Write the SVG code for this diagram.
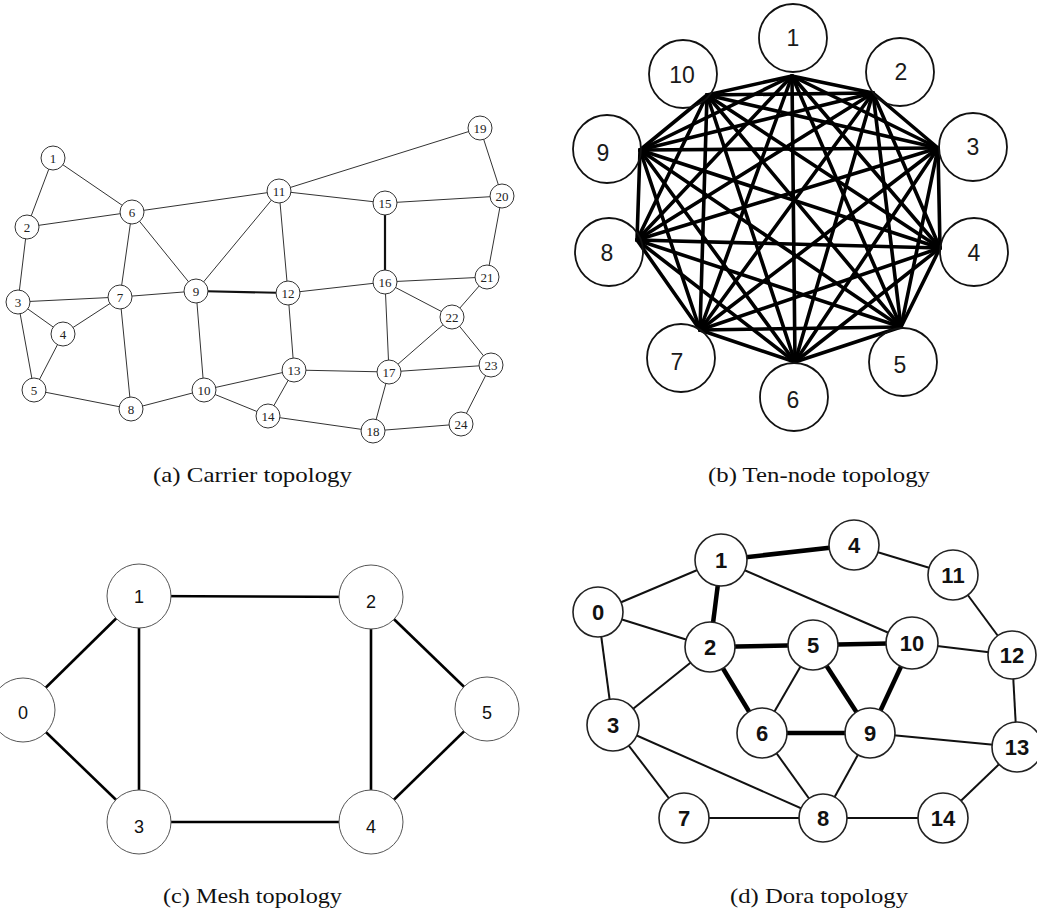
<svg xmlns="http://www.w3.org/2000/svg" width="1037" height="913" viewBox="0 0 1037 913">
<style>
.bg{fill:#fff}
.ca{stroke:#333;stroke-width:1;fill:none}
.cat{stroke:#111;stroke-width:2.2;fill:none}
.na circle{fill:#fff;stroke:#333;stroke-width:1}
.na text{font-family:"Liberation Serif",serif;font-size:13px;fill:#222;text-anchor:middle}
.tb{stroke:#000;stroke-width:3.6;stroke-linecap:round;fill:none}
.nb circle{fill:none;stroke:#111;stroke-width:1.8}
.nb text{font-family:"Liberation Sans",Arial,sans-serif;font-size:23px;fill:#1a1a1a;text-anchor:middle}
.mc{stroke:#000;stroke-width:2.6;fill:none}
.nc circle{fill:#fff;stroke:#555;stroke-width:1}
.nc text{font-family:"Liberation Sans",Arial,sans-serif;font-size:18px;fill:#111;text-anchor:middle}
.dt{stroke:#111;stroke-width:2;fill:none}
.dk{stroke:#000;stroke-width:4.5;fill:none}
.nd circle{fill:#fff;stroke:#222;stroke-width:1.6}
.nd text{font-family:"Liberation Sans",Arial,sans-serif;font-size:22px;font-weight:bold;fill:#111;text-anchor:middle}
.cap{font-family:"Liberation Serif",serif;font-size:21px;fill:#111}
</style>
<rect class="bg" x="0" y="0" width="1037" height="913"/>

<!-- (a) Carrier topology -->
<g id="carrier-edges">
<line class="ca" x1="53" y1="158" x2="27" y2="227"/>
<line class="ca" x1="53" y1="158" x2="132" y2="212"/>
<line class="ca" x1="27" y1="227" x2="132" y2="212"/>
<line class="ca" x1="27" y1="227" x2="18" y2="302"/>
<line class="ca" x1="18" y1="302" x2="120" y2="297"/>
<line class="ca" x1="18" y1="302" x2="63" y2="334"/>
<line class="ca" x1="18" y1="302" x2="34" y2="390"/>
<line class="ca" x1="63" y1="334" x2="120" y2="297"/>
<line class="ca" x1="63" y1="334" x2="34" y2="390"/>
<line class="ca" x1="34" y1="390" x2="131" y2="409"/>
<line class="ca" x1="132" y1="212" x2="120" y2="297"/>
<line class="ca" x1="132" y1="212" x2="196" y2="291"/>
<line class="ca" x1="132" y1="212" x2="279" y2="191"/>
<line class="ca" x1="120" y1="297" x2="196" y2="291"/>
<line class="ca" x1="120" y1="297" x2="131" y2="409"/>
<line class="ca" x1="131" y1="409" x2="204" y2="390"/>
<line class="ca" x1="196" y1="291" x2="204" y2="390"/>
<line class="ca" x1="196" y1="291" x2="279" y2="191"/>
<line class="cat" x1="196" y1="291" x2="288" y2="293"/>
<line class="ca" x1="204" y1="390" x2="294" y2="370"/>
<line class="ca" x1="204" y1="390" x2="268" y2="416"/>
<line class="ca" x1="279" y1="191" x2="288" y2="293"/>
<line class="ca" x1="279" y1="191" x2="385" y2="203"/>
<line class="ca" x1="279" y1="191" x2="480" y2="128"/>
<line class="ca" x1="288" y1="293" x2="385" y2="282"/>
<line class="ca" x1="288" y1="293" x2="294" y2="370"/>
<line class="ca" x1="294" y1="370" x2="389" y2="372"/>
<line class="ca" x1="294" y1="370" x2="268" y2="416"/>
<line class="ca" x1="268" y1="416" x2="373" y2="431"/>
<line class="cat" x1="385" y1="203" x2="385" y2="282"/>
<line class="ca" x1="385" y1="203" x2="502" y2="196"/>
<line class="ca" x1="385" y1="282" x2="487" y2="277"/>
<line class="ca" x1="385" y1="282" x2="452" y2="317"/>
<line class="ca" x1="385" y1="282" x2="389" y2="372"/>
<line class="ca" x1="389" y1="372" x2="452" y2="317"/>
<line class="ca" x1="389" y1="372" x2="491" y2="365"/>
<line class="ca" x1="389" y1="372" x2="373" y2="431"/>
<line class="ca" x1="373" y1="431" x2="461" y2="424"/>
<line class="ca" x1="480" y1="128" x2="502" y2="196"/>
<line class="ca" x1="502" y1="196" x2="487" y2="277"/>
<line class="ca" x1="487" y1="277" x2="452" y2="317"/>
<line class="ca" x1="452" y1="317" x2="491" y2="365"/>
<line class="ca" x1="491" y1="365" x2="461" y2="424"/>
</g>
<g class="na">
<g id="a1"><circle cx="53" cy="158" r="12"/><text x="53" y="162.5">1</text></g>
<g id="a2"><circle cx="27" cy="227" r="12"/><text x="27" y="231.5">2</text></g>
<g id="a3"><circle cx="18" cy="302" r="12"/><text x="18" y="306.5">3</text></g>
<g id="a4"><circle cx="63" cy="334" r="12"/><text x="63" y="338.5">4</text></g>
<g id="a5"><circle cx="34" cy="390" r="12"/><text x="34" y="394.5">5</text></g>
<g id="a6"><circle cx="132" cy="212" r="12"/><text x="132" y="216.5">6</text></g>
<g id="a7"><circle cx="120" cy="297" r="12"/><text x="120" y="301.5">7</text></g>
<g id="a8"><circle cx="131" cy="409" r="12"/><text x="131" y="413.5">8</text></g>
<g id="a9"><circle cx="196" cy="291" r="12"/><text x="196" y="295.5">9</text></g>
<g id="a10"><circle cx="204" cy="390" r="12"/><text x="204" y="394.5">10</text></g>
<g id="a11"><circle cx="279" cy="191" r="12"/><text x="279" y="195.5">11</text></g>
<g id="a12"><circle cx="288" cy="293" r="12"/><text x="288" y="297.5">12</text></g>
<g id="a13"><circle cx="294" cy="370" r="12"/><text x="294" y="374.5">13</text></g>
<g id="a14"><circle cx="268" cy="416" r="12"/><text x="268" y="420.5">14</text></g>
<g id="a15"><circle cx="385" cy="203" r="12"/><text x="385" y="207.5">15</text></g>
<g id="a16"><circle cx="385" cy="282" r="12"/><text x="385" y="286.5">16</text></g>
<g id="a17"><circle cx="389" cy="372" r="12"/><text x="389" y="376.5">17</text></g>
<g id="a18"><circle cx="373" cy="431" r="12"/><text x="373" y="435.5">18</text></g>
<g id="a19"><circle cx="480" cy="128" r="12"/><text x="480" y="132.5">19</text></g>
<g id="a20"><circle cx="502" cy="196" r="12"/><text x="502" y="200.5">20</text></g>
<g id="a21"><circle cx="487" cy="277" r="12"/><text x="487" y="281.5">21</text></g>
<g id="a22"><circle cx="452" cy="317" r="12"/><text x="452" y="321.5">22</text></g>
<g id="a23"><circle cx="491" cy="365" r="12"/><text x="491" y="369.5">23</text></g>
<g id="a24"><circle cx="461" cy="424" r="12"/><text x="461" y="428.5">24</text></g>
</g>
<text class="cap" x="153" y="482" textLength="199" lengthAdjust="spacingAndGlyphs">(a)  Carrier topology</text>

<!-- (b) Ten-node topology -->
<g id="ten-edges">
<line class="tb" x1="792" y1="76" x2="873" y2="93"/>
<line class="tb" x1="792" y1="76" x2="938" y2="148"/>
<line class="tb" x1="792" y1="76" x2="940" y2="248"/>
<line class="tb" x1="792" y1="76" x2="901" y2="327"/>
<line class="tb" x1="792" y1="76" x2="795" y2="362"/>
<line class="tb" x1="792" y1="76" x2="700" y2="330"/>
<line class="tb" x1="792" y1="76" x2="637" y2="240"/>
<line class="tb" x1="792" y1="76" x2="640" y2="150"/>
<line class="tb" x1="792" y1="76" x2="707" y2="95"/>
<line class="tb" x1="873" y1="93" x2="938" y2="148"/>
<line class="tb" x1="873" y1="93" x2="940" y2="248"/>
<line class="tb" x1="873" y1="93" x2="901" y2="327"/>
<line class="tb" x1="873" y1="93" x2="795" y2="362"/>
<line class="tb" x1="873" y1="93" x2="700" y2="330"/>
<line class="tb" x1="873" y1="93" x2="637" y2="240"/>
<line class="tb" x1="873" y1="93" x2="640" y2="150"/>
<line class="tb" x1="873" y1="93" x2="707" y2="95"/>
<line class="tb" x1="938" y1="148" x2="940" y2="248"/>
<line class="tb" x1="938" y1="148" x2="901" y2="327"/>
<line class="tb" x1="938" y1="148" x2="795" y2="362"/>
<line class="tb" x1="938" y1="148" x2="700" y2="330"/>
<line class="tb" x1="938" y1="148" x2="637" y2="240"/>
<line class="tb" x1="938" y1="148" x2="640" y2="150"/>
<line class="tb" x1="938" y1="148" x2="707" y2="95"/>
<line class="tb" x1="940" y1="248" x2="901" y2="327"/>
<line class="tb" x1="940" y1="248" x2="795" y2="362"/>
<line class="tb" x1="940" y1="248" x2="700" y2="330"/>
<line class="tb" x1="940" y1="248" x2="637" y2="240"/>
<line class="tb" x1="940" y1="248" x2="640" y2="150"/>
<line class="tb" x1="940" y1="248" x2="707" y2="95"/>
<line class="tb" x1="901" y1="327" x2="795" y2="362"/>
<line class="tb" x1="901" y1="327" x2="700" y2="330"/>
<line class="tb" x1="901" y1="327" x2="637" y2="240"/>
<line class="tb" x1="901" y1="327" x2="640" y2="150"/>
<line class="tb" x1="901" y1="327" x2="707" y2="95"/>
<line class="tb" x1="795" y1="362" x2="700" y2="330"/>
<line class="tb" x1="795" y1="362" x2="637" y2="240"/>
<line class="tb" x1="795" y1="362" x2="640" y2="150"/>
<line class="tb" x1="795" y1="362" x2="707" y2="95"/>
<line class="tb" x1="700" y1="330" x2="637" y2="240"/>
<line class="tb" x1="700" y1="330" x2="640" y2="150"/>
<line class="tb" x1="700" y1="330" x2="707" y2="95"/>
<line class="tb" x1="637" y1="240" x2="640" y2="150"/>
<line class="tb" x1="637" y1="240" x2="707" y2="95"/>
<line class="tb" x1="640" y1="150" x2="707" y2="95"/>
</g>
<g class="nb">
<g id="b1"><circle cx="793" cy="38" r="34"/><text x="793" y="46">1</text></g>
<g id="b2"><circle cx="900" cy="72" r="34"/><text x="901" y="80">2</text></g>
<g id="b3"><circle cx="973" cy="147" r="34"/><text x="973" y="155">3</text></g>
<g id="b4"><circle cx="974" cy="252" r="34"/><text x="974" y="261">4</text></g>
<g id="b5"><circle cx="903" cy="362" r="34"/><text x="900" y="373">5</text></g>
<g id="b6"><circle cx="794" cy="397" r="34"/><text x="793" y="408">6</text></g>
<g id="b7"><circle cx="681" cy="358" r="34"/><text x="677" y="370">7</text></g>
<g id="b8"><circle cx="609" cy="252" r="34"/><text x="607" y="261">8</text></g>
<g id="b9"><circle cx="607" cy="149" r="34"/><text x="603" y="161">9</text></g>
<g id="b10"><circle cx="683" cy="74" r="34"/><text x="682" y="83">10</text></g>
</g>
<text class="cap" x="708" y="482" textLength="222" lengthAdjust="spacingAndGlyphs">(b)  Ten-node topology</text>

<!-- (c) Mesh topology -->
<g id="mesh-edges">
<line class="mc" x1="23" y1="710" x2="139" y2="596"/>
<line class="mc" x1="23" y1="710" x2="139" y2="822"/>
<line class="mc" x1="139" y1="596" x2="371" y2="597"/>
<line class="mc" x1="139" y1="596" x2="139" y2="822"/>
<line class="mc" x1="371" y1="597" x2="371" y2="822"/>
<line class="mc" x1="371" y1="597" x2="487" y2="709"/>
<line class="mc" x1="139" y1="822" x2="371" y2="822"/>
<line class="mc" x1="371" y1="822" x2="487" y2="709"/>
</g>
<g class="nc">
<g id="c0"><circle cx="23" cy="710" r="32"/><text x="23" y="719">0</text></g>
<g id="c1"><circle cx="139" cy="596" r="32"/><text x="139" y="603">1</text></g>
<g id="c2"><circle cx="371" cy="597" r="32"/><text x="371" y="608">2</text></g>
<g id="c3"><circle cx="139" cy="822" r="32"/><text x="139" y="833">3</text></g>
<g id="c4"><circle cx="371" cy="822" r="32"/><text x="371" y="833">4</text></g>
<g id="c5"><circle cx="487" cy="709" r="32"/><text x="487" y="719">5</text></g>
</g>
<text class="cap" x="163" y="903" textLength="179" lengthAdjust="spacingAndGlyphs">(c)  Mesh topology</text>

<!-- (d) Dora topology -->
<g id="dora-edges">
<line class="dt" x1="598" y1="612" x2="721" y2="560"/>
<line class="dt" x1="598" y1="612" x2="710" y2="647"/>
<line class="dt" x1="598" y1="612" x2="613" y2="725"/>
<line class="dk" x1="721" y1="560" x2="710" y2="647"/>
<line class="dk" x1="721" y1="560" x2="854" y2="545"/>
<line class="dt" x1="721" y1="560" x2="912" y2="643"/>
<line class="dt" x1="854" y1="545" x2="953" y2="575"/>
<line class="dt" x1="953" y1="575" x2="1012" y2="655"/>
<line class="dk" x1="710" y1="647" x2="813" y2="645"/>
<line class="dk" x1="813" y1="645" x2="912" y2="643"/>
<line class="dt" x1="912" y1="643" x2="1012" y2="655"/>
<line class="dk" x1="710" y1="647" x2="762" y2="733"/>
<line class="dt" x1="813" y1="645" x2="762" y2="733"/>
<line class="dk" x1="813" y1="645" x2="870" y2="733"/>
<line class="dk" x1="912" y1="643" x2="870" y2="733"/>
<line class="dt" x1="710" y1="647" x2="613" y2="725"/>
<line class="dk" x1="762" y1="733" x2="870" y2="733"/>
<line class="dt" x1="762" y1="733" x2="823" y2="818"/>
<line class="dt" x1="870" y1="733" x2="823" y2="818"/>
<line class="dt" x1="870" y1="733" x2="1017" y2="747"/>
<line class="dt" x1="1012" y1="655" x2="1017" y2="747"/>
<line class="dt" x1="613" y1="725" x2="684" y2="818"/>
<line class="dt" x1="613" y1="725" x2="823" y2="818"/>
<line class="dt" x1="684" y1="818" x2="823" y2="818"/>
<line class="dt" x1="823" y1="818" x2="943" y2="818"/>
<line class="dt" x1="943" y1="818" x2="1017" y2="747"/>
</g>
<g class="nd">
<g id="d0"><circle cx="598" cy="612" r="25"/><text x="598" y="620">0</text></g>
<g id="d1"><circle cx="721" cy="560" r="26"/><text x="721" y="568">1</text></g>
<g id="d2"><circle cx="710" cy="647" r="25"/><text x="710" y="655">2</text></g>
<g id="d3"><circle cx="613" cy="725" r="26"/><text x="613" y="733">3</text></g>
<g id="d4"><circle cx="854" cy="545" r="25"/><text x="854" y="553">4</text></g>
<g id="d5"><circle cx="813" cy="645" r="25"/><text x="813" y="653">5</text></g>
<g id="d6"><circle cx="762" cy="733" r="25"/><text x="762" y="741">6</text></g>
<g id="d7"><circle cx="684" cy="818" r="25"/><text x="684" y="826">7</text></g>
<g id="d8"><circle cx="823" cy="818" r="24"/><text x="823" y="826">8</text></g>
<g id="d9"><circle cx="870" cy="733" r="25"/><text x="870" y="741">9</text></g>
<g id="d10"><circle cx="912" cy="643" r="26"/><text x="912" y="651">10</text></g>
<g id="d11"><circle cx="953" cy="575" r="25"/><text x="953" y="583">11</text></g>
<g id="d12"><circle cx="1012" cy="655" r="24"/><text x="1012" y="663">12</text></g>
<g id="d13"><circle cx="1017" cy="747" r="25"/><text x="1017" y="755">13</text></g>
<g id="d14"><circle cx="943" cy="818" r="25"/><text x="943" y="826">14</text></g>
</g>
<text class="cap" x="730" y="903" textLength="178" lengthAdjust="spacingAndGlyphs">(d)  Dora topology</text>
</svg>
